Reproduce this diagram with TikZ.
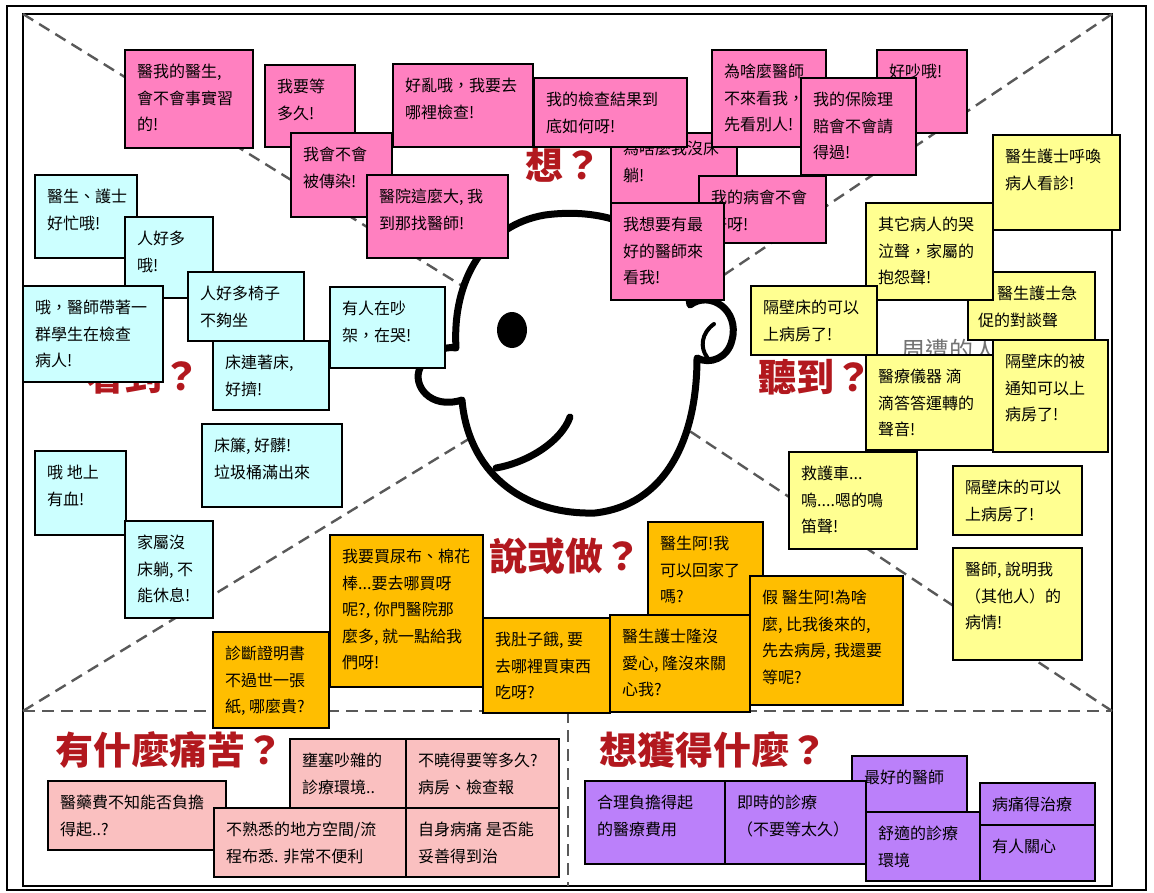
\documentclass[tikz,border=0pt]{standalone}
\usepackage{fontspec}
\usepackage{xcolor}
\usepackage{tikz}

\newfontfamily\cjk{Noto Sans CJK TC}

\definecolor{thinkpink}{RGB}{255,128,192}
\definecolor{seecyan}{RGB}{204,255,255}
\definecolor{hearyellow}{RGB}{255,255,145}
\definecolor{sayorange}{RGB}{255,190,0}
\definecolor{painpink}{RGB}{250,192,192}
\definecolor{gainviolet}{RGB}{187,128,250}
\definecolor{titlered}{RGB}{178,24,30}

% sticky note: [text options], name, fill, left, top, width, height, text
\newcommand{\sticky}[8][]{%
  \node[notebox,fill=#3,minimum width=#6pt,minimum height=#7pt] (#2) at (#4,#5) {};
  \node[notetext,#1] (#2t) at ([xshift=12pt,yshift=-14pt]#2.north west) {#8};}

\begin{document}
\begin{tikzpicture}[x=1pt,y=-1pt,
  notebox/.style={draw=black,line width=1.6pt,rectangle,anchor=north west,inner sep=0pt,outer sep=0pt},
  notetext/.style={anchor=north west,align=left,inner sep=0pt,font=\cjk\fontsize{16}{26.5}\selectfont},
  divider/.style={draw=black!65,line width=2.4pt,dash pattern=on 12pt off 7pt},
  question/.style={text=titlered,inner sep=0pt,font=\cjk\bfseries\fontsize{38}{42}\selectfont},
  face/.style={line width=7pt,line join=round,line cap=round}]
  \useasboundingbox (0,0) rectangle (1154,892);
  \fill[white] (0,0) rectangle (1154,892);

  % frames
  \draw[line width=1.5pt] (7,6) rectangle (1146,890);
  \draw[line width=2.5pt] (23,14) rectangle (1112,886);

  % quadrant dividers
  \coordinate (hub) at (590,365);
  \coordinate (tl) at (23,14);
  \coordinate (tr) at (1112,14);
  \coordinate (ml) at (23,711);
  \coordinate (mr) at (1112,711);
  \coordinate (mid) at (568,711);
  \coordinate (bot) at (568,886);
  \draw[divider] (tl) -- (hub) (tr) -- (hub) (ml) -- (hub) (mr) -- (hub);
  \draw[divider] (ml) -- (mr) (mid) -- (bot);

  % the head
  \draw[face,fill=white] (545,215) .. controls (620,205) and (680,240) .. (690,305)
    .. controls (710,290) and (740,310) .. (732,340)
    .. controls (728,358) and (710,365) .. (697,358)
    .. controls (697,440) and (665,505) .. (595,513)
    .. controls (520,515) and (468,470) .. (462,400)
    .. controls (430,410) and (412,385) .. (420,368)
    .. controls (425,355) and (445,345) .. (456,348)
    .. controls (452,280) and (485,225) .. (545,215) -- cycle;
  \draw[face,line width=4pt] (714,324) .. controls (701,333) and (700,348) .. (707,357);
  \fill (512,330) ellipse [x radius=15, y radius=18];
  \draw[face] (496,468) .. controls (530,462) and (562,440) .. (570,417);

  % quadrant titles
  \node[question] (think) at (563,165) {想？};
  \node[question] (see) at (143,376) {看到？};
  \node[question] (hear) at (815,377) {聽到？};
  \node[question] (say) at (565,556) {說或做？};
  \node[text=black!55,inner sep=0pt,anchor=west,font=\cjk\fontsize{24}{26}\selectfont] (around) at (901,350) {周遭的人};

  % think
  \sticky{p1}{thinkpink}{125}{50}{128}{98}{醫我的醫生,\\會不會事實習\\的!}
  \sticky{p2}{thinkpink}{265}{65}{90}{82}{我要等\\多久!}
  \sticky{p3}{thinkpink}{291}{133}{101}{84}{我會不會\\被傳染!}
  \sticky{p4}{thinkpink}{393}{64}{140}{83}{好亂哦，我要去\\哪裡檢查!}
  \sticky{p6}{thinkpink}{367}{175}{141}{83}{醫院這麼大, 我\\到那找醫師!}
  \sticky[yshift=6pt]{p7}{thinkpink}{611}{133}{126}{72}{為啥麼我沒床\\躺!}
  \sticky{p5}{thinkpink}{534}{78}{153}{69}{我的檢查結果到\\底如何呀!}
  \sticky{p11}{thinkpink}{699}{176}{127}{67}{我的病會不會\\好呀!}
  \sticky{p12}{thinkpink}{611}{203}{113}{97}{我想要有最\\好的醫師來\\看我!}
  \sticky{p9}{thinkpink}{877}{50}{90}{83}{好吵哦!}
  \sticky{p8}{thinkpink}{712}{50}{114}{97}{為啥麼醫師\\不來看我，\\先看別人!}
  \sticky{p10}{thinkpink}{801}{78}{115}{97}{我的保險理\\賠會不會請\\得過!}

  % see
  \sticky{c1}{seecyan}{35}{175}{102}{83}{醫生、護士\\好忙哦!}
  \sticky{c2}{seecyan}{125}{217}{88}{81}{人好多\\哦!}
  \sticky{c4}{seecyan}{188}{272}{116}{69}{人好多椅子\\不夠坐}
  \sticky{c3}{seecyan}{23}{286}{140}{96}{哦，醫師帶著一\\群學生在檢查\\病人!}
  \sticky{c6}{seecyan}{213}{341}{116}{69}{床連著床,\\好擠!}
  \sticky{c5}{seecyan}{330}{287}{115}{81}{有人在吵\\架，在哭!}
  \sticky{c7}{seecyan}{202}{424}{140}{83}{床簾, 好髒!\\垃圾桶滿出來}
  \sticky{c8}{seecyan}{35}{451}{91}{84}{哦 地上\\有血!}
  \sticky{c9}{seecyan}{125}{521}{88}{97}{家屬沒\\床躺, 不\\能休息!}

  % hear
  \sticky{y1}{hearyellow}{993}{135}{127}{95}{醫生護士呼喚\\病人看診!}
  \sticky[xshift=-2pt]{y4}{hearyellow}{968}{272}{127}{68}{\hspace{19pt}醫生護士急\\促的對談聲}
  \sticky{y2}{hearyellow}{866}{203}{127}{97}{其它病人的哭\\泣聲，家屬的\\抱怨聲!}
  \sticky{y3}{hearyellow}{751}{286}{126}{69}{隔壁床的可以\\上病房了!}
  \sticky{y5}{hearyellow}{866}{355}{127}{95}{醫療儀器 滴\\滴答答運轉的\\聲音!}
  \sticky{y6}{hearyellow}{993}{340}{115}{112}{隔壁床的被\\通知可以上\\病房了!}
  \sticky{y7}{hearyellow}{789}{452}{128}{97}{救護車...\\嗚....嗯的鳴\\笛聲!}
  \sticky{y8}{hearyellow}{953}{466}{129}{69}{隔壁床的可以\\上病房了!}
  \sticky{y9}{hearyellow}{953}{548}{129}{112}{醫師, 說明我\\（其他人）的\\病情!}

  % say or do
  \sticky{o1}{sayorange}{330}{535}{153}{152}{我要買尿布、棉花\\棒...要去哪買呀\\呢?, 你門醫院那\\麼多, 就一點給我\\們呀!}
  \sticky{o2}{sayorange}{213}{632}{116}{96}{診斷證明書\\不過世一張\\紙, 哪麼貴?}
  \sticky{o3}{sayorange}{483}{618}{127}{95}{我肚子餓, 要\\去哪裡買東西\\吃呀?}
  \sticky{o4}{sayorange}{648}{522}{115}{93}{醫生阿!我\\可以回家了\\嗎?}
  \sticky{o5}{sayorange}{610}{615}{140}{97}{醫生護士隆沒\\愛心, 隆沒來關\\心我?}
  \sticky{o6}{sayorange}{750}{576}{153}{129}{假 醫生阿!為啥\\麼, 比我後來的,\\先去病房, 我還要\\等呢?}

  % pains
  \node[question] (pain) at (169,750) {有什麼痛苦？};
  \sticky{r1}{painpink}{48}{781}{178}{69}{醫藥費不知能否負擔\\得起..?}
  \sticky{r2}{painpink}{290}{739}{116}{69}{壅塞吵雜的\\診療環境..}
  \sticky{r3}{painpink}{406}{739}{153}{69}{不曉得要等多久?\\病房、檢查報}
  \sticky{r4}{painpink}{214}{808}{192}{69}{不熟悉的地方空間/流\\程布悉. 非常不便利}
  \sticky{r5}{painpink}{406}{808}{153}{69}{自身病痛 是否能\\妥善得到治}

  % gains
  \node[question] (gain) at (713,750) {想獲得什麼？};
  \sticky{g1}{gainviolet}{585}{781}{140}{83}{合理負擔得起\\的醫療費用}
  \sticky{g3}{gainviolet}{852}{756}{115}{56}{最好的醫師}
  \sticky{g2}{gainviolet}{725}{781}{141}{83}{即時的診療\\（不要等太久）}
  \sticky{g4}{gainviolet}{866}{812}{114}{69}{舒適的診療\\環境}
  \sticky{g5}{gainviolet}{980}{783}{115}{42}{病痛得治療}
  \sticky{g6}{gainviolet}{980}{825}{115}{56}{有人關心}
\end{tikzpicture}
\end{document}
